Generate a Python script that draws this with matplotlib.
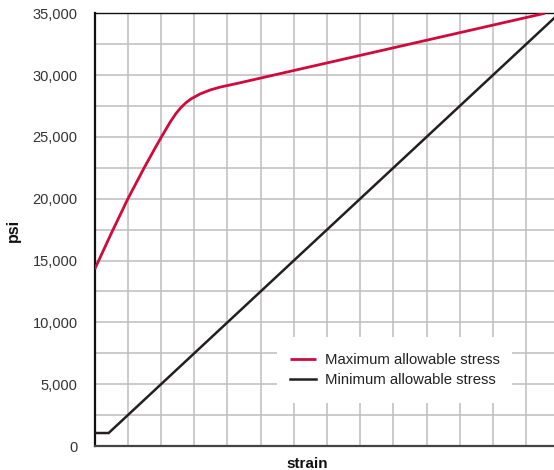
import matplotlib
matplotlib.use("Agg")
import matplotlib.pyplot as plt
from matplotlib.patches import Rectangle
from matplotlib.ticker import MultipleLocator, FuncFormatter

# Data (strain in grid units, stress in psi)
max_strain = [0, 0.5, 1.0, 1.5, 1.82, 2.0, 2.27, 2.45, 2.6, 2.75, 2.9, 3.17, 3.48, 3.78, 4.28, 13.56]
max_stress = [14300, 17200, 20000, 22550, 24100, 24950, 26180, 26900, 27380, 27770, 28070, 28470, 28800, 29030, 29320, 35000]
min_strain = [0, 0.42, 14.0]
min_stress = [1050, 1050, 35000]
series_labels = ["Maximum allowable stress", "Minimum allowable stress"]
y_ticks = [0, 5000, 10000, 15000, 20000, 25000, 30000, 35000]

RED = "#cf0a3c"
BLACK = "#231f20"

plt.rcParams['font.family'] = ['Liberation Sans', 'DejaVu Sans']

fig = plt.figure(figsize=(5.54, 4.70), dpi=100)
ax = fig.add_axes([94.7/554, 24/470, (554-94.7)/554, (446-13.3)/470])

ax.set_xlim(0, 13.84)
ax.set_ylim(0, 35000)

ax.xaxis.set_major_locator(MultipleLocator(1))
ax.set_yticks(y_ticks)
ax.yaxis.set_minor_locator(MultipleLocator(2500))
ax.yaxis.set_major_formatter(FuncFormatter(lambda v, p: f"{int(v):,}"))
ax.tick_params(axis='x', which='both', length=0, labelbottom=False)
ax.tick_params(axis='y', which='both', length=0, pad=12.3, labelsize=10.5, labelcolor="#333333")

ax.set_axisbelow(True)
ax.grid(which='both', color="#bdbdbd", linewidth=1.1)

ax.spines['right'].set_visible(False)
ax.spines['top'].set_linewidth(1.0)
ax.spines['top'].set_color("#111111")
ax.spines['left'].set_linewidth(1.6)
ax.spines['left'].set_color("#111111")
ax.spines['bottom'].set_linewidth(1.6)
ax.spines['bottom'].set_color("#444444")

ax.plot(max_strain, max_stress, color=RED, linewidth=2.0, label=series_labels[0],
        solid_joinstyle='round', solid_capstyle='butt', zorder=3)
ax.plot(min_strain, min_stress, color=BLACK, linewidth=1.8, label=series_labels[1],
        solid_joinstyle='miter', zorder=3)

# white legend background box
ax.add_patch(Rectangle((0.397, 0.0994), 0.9085-0.397, 0.252-0.0994, transform=ax.transAxes,
                       facecolor='white', edgecolor='none', zorder=1))

leg = ax.legend(loc='upper left', bbox_to_anchor=(0.4252, 0.215), frameon=False,
                fontsize=10.7, handlelength=1.75, handletextpad=0.6, labelspacing=0.4,
                borderpad=0, borderaxespad=0)
for t in leg.get_texts():
    t.set_color("#222222")

fig.text(13/554, 1-230/470, "psi", rotation=90, ha='center', va='center',
         fontsize=11.5, fontweight='bold', color="#111111")
fig.text(307/554, 1-468.5/470, "strain", ha='center', va='baseline',
         fontsize=11, fontweight='bold', color="#111111")

fig.savefig("out.png", dpi=100)
